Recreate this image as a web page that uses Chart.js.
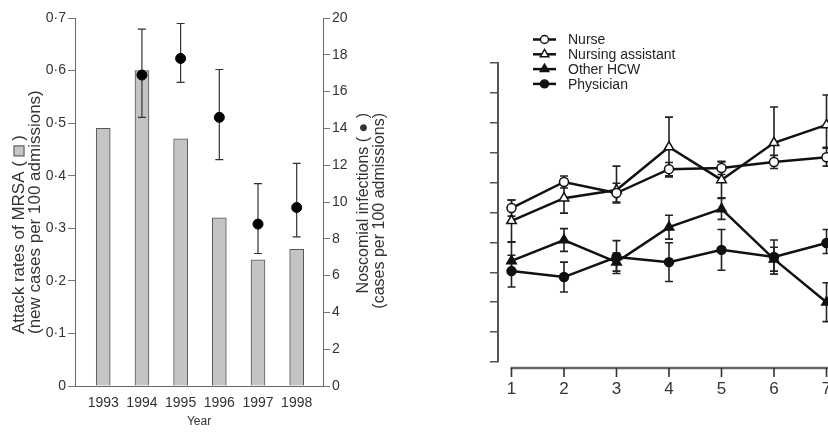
<!DOCTYPE html>
<html>
<head>
<meta charset="utf-8">
<script src="https://cdn.jsdelivr.net/npm/chart.js@4.4.1/dist/chart.umd.min.js"></script>
<style>
  html, body { margin: 0; padding: 0; background: #fff; overflow: hidden; }
  #wrap { position: relative; width: 828px; height: 432px; overflow: hidden; }
  #left { position: absolute; left: 0; top: 0; }
  #right { position: absolute; left: 470px; top: 0; }
</style>
</head>
<body>
<div id="wrap">
  <canvas id="left" width="410" height="432"></canvas>
  <canvas id="right" width="420" height="432"></canvas>
</div>
<script>
// MRSA attack rate (bars) and nosocomial infections (points) per year
const years = [1993, 1994, 1995, 1996, 1997, 1998];
const mrsaRate = [0.49, 0.60, 0.47, 0.32, 0.24, 0.26];
const infRate = [null, 16.9, 17.8, 14.6, 8.8, 9.7];
const infLow = [null, 14.6, 16.5, 12.3, 7.2, 8.1];
const infHigh = [null, 19.4, 19.7, 17.2, 11.0, 12.1];
const rateTicks = [0, 0.1, 0.2, 0.3, 0.4, 0.5, 0.6, 0.7];

// occupational groups over time
const periods = [1, 2, 3, 4, 5, 6, 7];
const nurse = [5.15, 6.02, 5.65, 6.45, 6.49, 6.69, 6.85];
const nurseDown = [0.27, 0.2, 0.33, 0.22, 0.22, 0.22, 0.3];
const nurseUp = [0.27, 0.2, 0.33, 0.22, 0.22, 0.22, 0.3];
const assistant = [4.72, 5.48, 5.75, 7.19, 6.09, 7.33, 7.93];
const assistantDown = [0.7, 0.5, 0.4, 1.0, 0.6, 0.6, 0.75];
const assistantUp = [0.7, 0.5, 0.8, 1.0, 0.6, 1.2, 1.0];
const otherHcw = [3.38, 4.08, 3.34, 4.51, 5.12, 3.44, 2.0];
const otherDown = [0.3, 0.38, 0.3, 0.4, 0.35, 0.4, 0.65];
const otherUp = [0.63, 0.38, 0.3, 0.4, 0.35, 0.4, 0.65];
const physician = [3.04, 2.84, 3.51, 3.34, 3.75, 3.51, 3.98];
const physicianDown = [0.53, 0.5, 0.55, 0.65, 0.68, 0.57, 0.35];
const physicianUp = [0.53, 0.5, 0.55, 0.65, 0.68, 0.57, 0.45];

const FONT = "'Liberation Sans', Arial, sans-serif";

function drawErrorBars(ctx, xScale, yScale, xs, vals, lo, hi, cap) {
  for (let i = 0; i < xs.length; i++) {
    if (vals[i] == null) continue;
    const x = xScale.getPixelForValue(xs[i]);
    const y1 = yScale.getPixelForValue(lo[i]);
    const y2 = yScale.getPixelForValue(hi[i]);
    ctx.beginPath();
    ctx.moveTo(x, y1); ctx.lineTo(x, y2);
    ctx.moveTo(x - cap, y1); ctx.lineTo(x + cap, y1);
    ctx.moveTo(x - cap, y2); ctx.lineTo(x + cap, y2);
    ctx.stroke();
  }
}

const leftErrorBars = {
  id: 'leftErrorBars',
  beforeDatasetDraw(chart, args) {
    if (args.index !== 0) return;
    const ctx = chart.ctx;
    ctx.save();
    ctx.strokeStyle = '#333';
    ctx.lineWidth = 1.2;
    drawErrorBars(ctx, chart.scales.x, chart.scales.y, years, infRate, infLow, infHigh, 4);
    ctx.restore();
  }
};

// rotated axis titles, both read bottom to top
const leftTitles = {
  id: 'leftTitles',
  afterDraw(chart) {
    const ctx = chart.ctx;
    ctx.save();
    ctx.fillStyle = '#333';
    ctx.textBaseline = 'middle';

    // left title starts at the bottom; the grey box stands for the bars
    ctx.save();
    ctx.font = '17px ' + FONT;
    ctx.translate(19, 334);
    ctx.rotate(-Math.PI / 2);
    ctx.textAlign = 'left';
    const a = 'Attack rates of MRSA ( ';
    const box = 11;
    let x0 = ctx.measureText(a).width;
    ctx.fillText(a, 0, 0);
    ctx.fillStyle = '#c6c6c6';
    ctx.fillRect(x0, -box / 2, box, box);
    ctx.strokeStyle = '#555';
    ctx.lineWidth = 1;
    ctx.strokeRect(x0 + 0.5, -box / 2 + 0.5, box - 1, box - 1);
    ctx.fillStyle = '#333';
    ctx.fillText(' )', x0 + box, 0);
    ctx.fillText('(new cases per 100 admissions)', 0, 16);
    ctx.restore();

    // right title ends at the top
    ctx.save();
    ctx.font = '16px ' + FONT;
    ctx.translate(364, 113);
    ctx.rotate(-Math.PI / 2);
    ctx.textAlign = 'right';
    ctx.fillText('Noscomial infections ( \u25CF )', 0, 0);
    ctx.fillText('(cases per 100 admissions)', 0, 16);
    ctx.restore();
    ctx.restore();
  }
};

new Chart(document.getElementById('left'), {
  type: 'bar',
  data: {
    datasets: [{
      type: 'line',
      label: 'Nosocomial infections',
      data: years.map((yr, i) => ({ x: yr, y: infRate[i] })).filter(p => p.y != null),
      yAxisID: 'y',
      showLine: false,
      pointRadius: 5,
      pointBackgroundColor: '#000',
      pointBorderColor: '#000'
    }, {
      label: 'MRSA',
      data: years.map((yr, i) => ({ x: yr, y: mrsaRate[i] })),
      yAxisID: 'yRate',
      barThickness: 14,
      backgroundColor: '#c4c4c4',
      borderColor: '#555',
      borderWidth: 1
    }]
  },
  options: {
    responsive: false,
    animation: false,
    layout: { padding: { top: 18, left: 0, right: 0, bottom: 0 } },
    plugins: { legend: { display: false }, tooltip: { enabled: false } },
    scales: {
      x: {
        type: 'linear',
        offset: false,
        min: 1992.27,
        max: 1998.68,
        afterBuildTicks: s => { s.ticks = years.map(v => ({ value: v })); },
        afterFit: s => { s.height = 46; },
        grid: { display: false, drawTicks: false },
        border: { display: true, color: '#666', width: 1 },
        ticks: { color: '#333', font: { family: FONT, size: 14 }, padding: 9, callback: v => String(v) },
        title: { display: true, text: 'Year', color: '#333', font: { family: FONT, size: 12 }, padding: { top: 0, bottom: 3 } }
      },
      yRate: {
        position: 'left',
        min: 0,
        max: 0.7,
        afterBuildTicks: s => { s.ticks = rateTicks.map(v => ({ value: v })); },
        afterFit: s => { s.width = 75; },
        grid: { drawOnChartArea: false, tickLength: 7, color: '#777' },
        border: { color: '#666' },
        ticks: { color: '#333', padding: 2, font: { family: FONT, size: 14 },
          callback: v => v === 0 ? '0' : v.toFixed(1).replace('.', '\u00B7') }
      },
      y: {
        position: 'right',
        min: 0,
        max: 20,
        ticks: { stepSize: 2, color: '#333', padding: 2, font: { family: FONT, size: 14 } },
        afterFit: s => { s.width = 87; },
        grid: { drawOnChartArea: false, tickLength: 7, color: '#777' },
        border: { color: '#666' }
      }
    }
  },
  plugins: [leftErrorBars, leftTitles]
});

// right panel
const groupErrors = [
  [nurse, nurseDown, nurseUp],
  [assistant, assistantDown, assistantUp],
  [otherHcw, otherDown, otherUp],
  [physician, physicianDown, physicianUp]
];

const rightErrorBars = {
  id: 'rightErrorBars',
  beforeDatasetsDraw(chart) {
    const ctx = chart.ctx;
    ctx.save();
    ctx.strokeStyle = '#222';
    ctx.lineWidth = 1.6;
    groupErrors.forEach(g => {
      const lo = g[0].map((v, i) => v - g[1][i]);
      const hi = g[0].map((v, i) => v + g[2][i]);
      drawErrorBars(ctx, chart.scales.x, chart.scales.y, periods, g[0], lo, hi, 4);
    });
    ctx.restore();
  }
};

// x axis line sits a little below the plot, starting at the first period
const rightAxis = {
  id: 'rightAxis',
  afterDraw(chart) {
    const ctx = chart.ctx;
    const xs = chart.scales.x;
    const y0 = chart.chartArea.bottom + 6;
    ctx.save();
    ctx.strokeStyle = '#666';
    ctx.lineWidth = 2.5;
    ctx.beginPath();
    ctx.moveTo(xs.getPixelForValue(periods[0]) - 1, y0);
    ctx.lineTo(chart.width, y0);
    ctx.stroke();
    ctx.lineWidth = 1.6;
    ctx.strokeStyle = '#333';
    ctx.beginPath();
    xs.ticks.forEach(t => {
      const x = xs.getPixelForValue(t.value);
      ctx.moveTo(x, y0);
      ctx.lineTo(x, y0 + 9);
    });
    ctx.stroke();
    ctx.restore();
  }
};

const lineLegend = {
  id: 'lineLegend',
  afterDraw(chart) {
    const ctx = chart.ctx;
    ctx.save();
    ctx.font = '14px ' + FONT;
    ctx.textBaseline = 'middle';
    chart.data.datasets.forEach((ds, i) => {
      const y = 39.5 + i * 14.8;
      ctx.strokeStyle = '#111';
      ctx.lineWidth = 2.5;
      ctx.beginPath();
      ctx.moveTo(63, y);
      ctx.lineTo(86, y);
      ctx.stroke();
      ctx.fillStyle = ds.pointBackgroundColor;
      ctx.strokeStyle = '#111';
      ctx.lineWidth = 1.4;
      Chart.helpers.drawPoint(ctx, { pointStyle: ds.pointStyle, radius: ds.pointRadius - 0.5, rotation: 0, borderWidth: 1.4 }, 74.5, y);
      ctx.fillStyle = '#222';
      ctx.fillText(ds.label, 98, y + 1);
    });
    ctx.restore();
  }
};

function group(label, values, style, fill, radius) {
  return {
    label: label,
    data: periods.map((p, i) => ({ x: p, y: values[i] })),
    borderColor: '#111',
    borderWidth: 2.5,
    pointStyle: style,
    pointRadius: radius,
    pointBackgroundColor: fill,
    pointBorderColor: '#111',
    pointBorderWidth: 1.5,
    tension: 0
  };
}

new Chart(document.getElementById('right'), {
  type: 'line',
  data: {
    datasets: [
      group('Nurse', nurse, 'circle', '#fff', 4.5),
      group('Nursing assistant', assistant, 'triangle', '#fff', 5.5),
      group('Other HCW', otherHcw, 'triangle', '#111', 5.5),
      group('Physician', physician, 'circle', '#111', 4.5)
    ]
  },
  options: {
    responsive: false,
    animation: false,
    layout: { padding: { top: 63, left: 0, right: 11, bottom: 0 } },
    plugins: { legend: { display: false }, tooltip: { enabled: false } },
    scales: {
      x: {
        type: 'linear',
        min: 0.743,
        max: 8,
        afterBuildTicks: s => { s.ticks = periods.map(v => ({ value: v })); },
        afterFit: s => { s.height = 70; },
        grid: { display: false, drawTicks: false },
        border: { display: false },
        ticks: { color: '#333', font: { family: FONT, size: 17 }, padding: 17, callback: v => String(v) }
      },
      y: {
        min: 0,
        max: 10,
        ticks: { stepSize: 1, callback: () => '' },
        afterFit: s => { s.width = 28; },
        grid: { drawOnChartArea: false, tickLength: 8, color: '#555', lineWidth: 1.5 },
        border: { color: '#555', width: 2 }
      }
    }
  },
  plugins: [rightErrorBars, rightAxis, lineLegend]
});
</script>
</body>
</html>
